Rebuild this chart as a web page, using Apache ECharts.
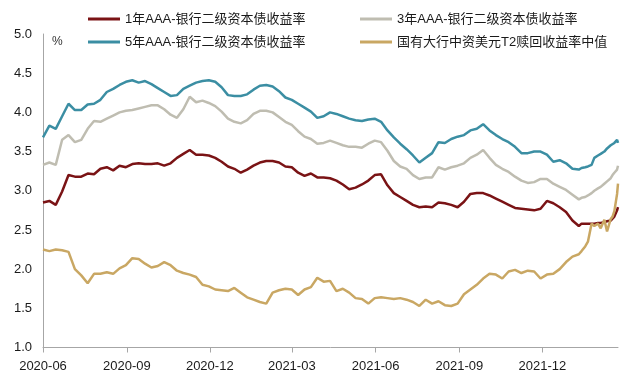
<!DOCTYPE html>
<html><head><meta charset="utf-8">
<script src="https://cdn.jsdelivr.net/npm/echarts@6/dist/echarts.min.js"></script>
<style>html,body{margin:0;padding:0;background:#fff}#c{width:640px;height:384px}</style>
</head><body><div id="c"></div>
<script>
const seriesNames = ['1年AAA-银行二级资本债收益率', '3年AAA-银行二级资本债收益率', '5年AAA-银行二级资本债收益率', '国有大行中资美元T2赎回收益率中值'];
const tickLabels = ['2020-06', '2020-09', '2020-12', '2021-03', '2021-06', '2021-09', '2021-12'];
const xMin = '2020-06-01';
const xMax = '2022-02-22';

const dates = [
'2020-06-01','2020-06-08','2020-06-15','2020-06-22','2020-06-29','2020-07-06','2020-07-13','2020-07-20','2020-07-27','2020-08-03',
'2020-08-10','2020-08-17','2020-08-24','2020-08-31','2020-09-07','2020-09-14','2020-09-21','2020-09-28','2020-10-05','2020-10-12',
'2020-10-19','2020-10-26','2020-11-02','2020-11-09','2020-11-16','2020-11-23','2020-11-30','2020-12-07','2020-12-14','2020-12-21',
'2020-12-28','2021-01-04','2021-01-11','2021-01-18','2021-01-25','2021-02-01','2021-02-08','2021-02-15','2021-02-22','2021-03-01',
'2021-03-08','2021-03-15','2021-03-22','2021-03-29','2021-04-05','2021-04-12','2021-04-19','2021-04-26','2021-05-03','2021-05-10',
'2021-05-17','2021-05-24','2021-05-31','2021-06-07','2021-06-14','2021-06-21','2021-06-28','2021-07-05','2021-07-12','2021-07-19',
'2021-07-26','2021-08-02','2021-08-09','2021-08-16','2021-08-23','2021-08-30','2021-09-06','2021-09-13','2021-09-20','2021-09-27',
'2021-10-04','2021-10-11','2021-10-18','2021-10-25','2021-11-01','2021-11-08','2021-11-15','2021-11-22','2021-11-29','2021-12-06',
'2021-12-13','2021-12-20','2021-12-27','2022-01-03','2022-01-10',
'2022-01-13','2022-01-17','2022-01-20','2022-01-24','2022-01-27','2022-01-31','2022-02-03','2022-02-07','2022-02-10','2022-02-14',
'2022-02-16','2022-02-18','2022-02-21','2022-02-22'
];

const y1 = [
2.85,2.87,2.82,2.99,3.20,3.18,3.18,3.22,3.21,3.28,
3.30,3.26,3.32,3.30,3.34,3.35,3.34,3.34,3.35,3.32,
3.35,3.42,3.47,3.52,3.46,3.46,3.45,3.42,3.37,3.31,
3.28,3.23,3.27,3.32,3.36,3.38,3.38,3.36,3.31,3.30,
3.23,3.19,3.22,3.17,3.17,3.16,3.13,3.08,3.02,3.04,
3.08,3.13,3.20,3.21,3.07,2.97,2.92,2.87,2.82,2.79,
2.80,2.79,2.85,2.84,2.82,2.79,2.86,2.96,2.97,2.97,
2.94,2.90,2.86,2.82,2.78,2.77,2.76,2.75,2.77,2.87,
2.84,2.79,2.73,2.62,2.55,
2.58,2.58,2.58,2.58,2.58,2.59,2.59,2.60,2.61,2.62,
2.64,2.67,2.75,2.79
];

const y3 = [
3.33,3.36,3.33,3.65,3.71,3.62,3.65,3.79,3.89,3.88,
3.92,3.96,4.00,4.02,4.03,4.05,4.07,4.09,4.09,4.04,
3.97,3.93,4.04,4.20,4.13,4.15,4.12,4.08,4.01,3.92,
3.88,3.86,3.90,3.98,4.02,4.02,4.00,3.94,3.88,3.84,
3.76,3.69,3.66,3.60,3.61,3.64,3.61,3.58,3.56,3.56,
3.55,3.60,3.64,3.62,3.51,3.38,3.31,3.28,3.20,3.15,
3.17,3.17,3.30,3.27,3.30,3.32,3.35,3.42,3.46,3.52,
3.42,3.33,3.28,3.24,3.18,3.13,3.10,3.11,3.15,3.15,
3.09,3.05,3.01,2.95,2.89,
2.91,2.92,2.94,2.97,3.00,3.03,3.05,3.09,3.12,3.16,
3.20,3.23,3.27,3.32
];

const y5 = [
3.68,3.83,3.79,3.95,4.11,4.03,4.03,4.10,4.11,4.16,
4.26,4.30,4.35,4.39,4.41,4.38,4.40,4.36,4.31,4.26,
4.21,4.22,4.30,4.34,4.38,4.40,4.41,4.39,4.32,4.22,
4.21,4.21,4.23,4.29,4.34,4.35,4.33,4.27,4.19,4.16,
4.11,4.06,4.01,3.93,3.95,4.00,3.98,3.95,3.92,3.90,
3.89,3.91,3.92,3.88,3.77,3.68,3.60,3.53,3.45,3.36,
3.42,3.48,3.62,3.61,3.66,3.69,3.71,3.77,3.79,3.85,
3.77,3.71,3.66,3.62,3.56,3.48,3.48,3.50,3.50,3.46,
3.37,3.39,3.35,3.28,3.27,
3.29,3.30,3.31,3.33,3.42,3.45,3.47,3.50,3.54,3.58,
3.60,3.61,3.65,3.61
];

const yUsd = [
2.25,2.23,2.25,2.24,2.22,2.00,1.92,1.82,1.94,1.94,
1.96,1.94,2.01,2.05,2.14,2.13,2.07,2.02,2.04,2.09,
2.05,1.98,1.95,1.93,1.90,1.80,1.78,1.74,1.73,1.72,
1.76,1.70,1.64,1.61,1.58,1.56,1.70,1.73,1.75,1.74,
1.67,1.74,1.77,1.89,1.84,1.85,1.72,1.75,1.70,1.63,
1.62,1.56,1.63,1.64,1.63,1.62,1.63,1.61,1.58,1.53,
1.61,1.56,1.59,1.54,1.53,1.56,1.68,1.74,1.80,1.88,
1.94,1.93,1.88,1.97,1.99,1.95,1.98,1.97,1.88,1.93,
1.94,2.00,2.09,2.16,2.19,
2.23,2.29,2.35,2.58,2.55,2.58,2.52,2.63,2.48,2.64,
2.67,2.74,2.96,3.09
];

function ts(s) {
  const p = s.split('-').map(Number);
  return new Date(p[0], p[1] - 1, p[2] || 1).getTime();
}
function pairs(vals) { return dates.map((d, i) => [ts(d), vals[i]]); }

const FONT = '"Liberation Sans", Arial, "Noto Sans CJK SC", sans-serif';
const colors = ['#7A1315', '#BFBDB1', '#3B8EA3', '#C9A763'];
const allVals = [y1, y3, y5, yUsd];
const tickValues = tickLabels.map(ts);

const legendBase = {
  top: 12, padding: 0, orient: 'vertical', itemGap: 9, itemWidth: 32, itemHeight: 3, icon: 'rect',
  textStyle: {fontSize: 13, color: '#1a1a1a', fontFamily: FONT, lineHeight: 14}
};

const chart = echarts.init(document.getElementById('c'), null, {renderer: 'canvas'});
chart.setOption({
  animation: false,
  backgroundColor: '#fff',
  textStyle: {fontFamily: FONT},
  grid: {left: 43, right: 22, top: 34, bottom: 36.5, containLabel: false},
  legend: [
    Object.assign({}, legendBase, {left: 88, data: [seriesNames[0], seriesNames[2]]}),
    Object.assign({}, legendBase, {left: 360, data: [seriesNames[1], seriesNames[3]]})
  ],
  graphic: [{type: 'text', left: 52, top: 36, style: {text: '%', fontSize: 12, fill: '#333', fontFamily: FONT}}],
  xAxis: {
    type: 'value', min: ts(xMin), max: ts(xMax), scale: true,
    axisLine: {show: true, lineStyle: {color: '#A6A6A6', width: 1}},
    axisTick: {show: true, length: 5, inside: false, lineStyle: {color: '#A6A6A6'}, customValues: tickValues},
    axisLabel: {customValues: tickValues, fontSize: 13, color: '#1a1a1a', margin: 12, fontFamily: FONT,
      formatter: function (v) { const d = new Date(v); return d.getFullYear() + '-' + String(d.getMonth() + 1).padStart(2, '0'); }},
    splitLine: {show: false}
  },
  yAxis: {
    type: 'value', min: 1, max: 5, interval: 0.5,
    axisLine: {show: true, lineStyle: {color: '#A6A6A6', width: 1}},
    axisTick: {show: false},
    axisLabel: {fontSize: 13, color: '#1a1a1a', margin: 11, fontFamily: FONT, formatter: v => v.toFixed(1)},
    splitLine: {show: false}
  },
  series: seriesNames.map((n, i) => ({
    name: n, type: 'line', data: pairs(allVals[i]), symbol: 'none', showSymbol: false,
    lineStyle: {width: 2.5, color: colors[i]}, itemStyle: {color: colors[i]}, z: 2 + i
  }))
});
</script></body></html>
